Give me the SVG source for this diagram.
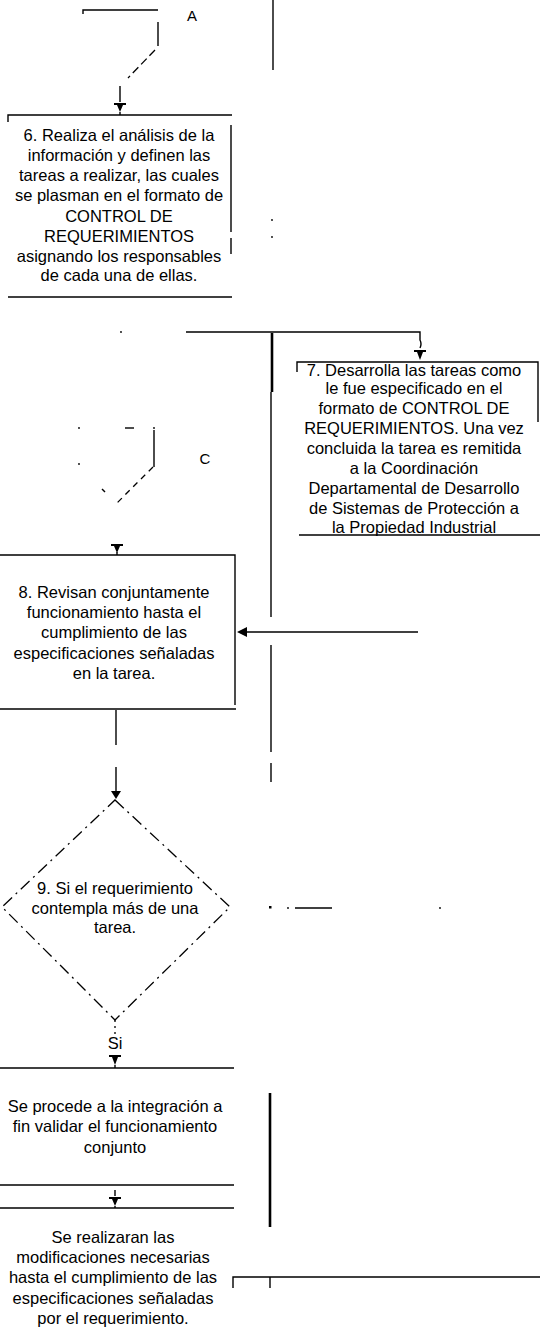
<svg xmlns="http://www.w3.org/2000/svg" width="540" height="1340" viewBox="0 0 540 1340">
  <style>
    .ln { stroke: #000; stroke-width: 1.4; fill: none; }
    .thick { stroke: #000; stroke-width: 2.6; fill: none; }
    .dash { stroke: #000; stroke-width: 1.3; fill: none; stroke-dasharray: 12 5 2 5; }
    .dot { fill: #000; }
    .t { font-family: "Liberation Sans", Arial, sans-serif; font-size: 16.5px; fill: #000; text-anchor: middle; }
    .lbl { font-family: "Liberation Sans", Arial, sans-serif; font-size: 15px; fill: #000; text-anchor: middle; }
  </style>
  <rect width="540" height="1340" fill="#fff"/>

  <!-- connectors -->
  <g id="connectors">
    <!-- top: off-page connector A down to step 6 -->
    <path class="ln" d="M83,14 V10 H158"/>
    <path class="ln" d="M158,22 V46"/>
    <path class="dash" d="M155,50 L128,78" style="stroke-dasharray:8 4"/>
    <path class="ln" d="M120,86 V102"/>
    <path class="dot" d="M114,103 H126 V105 H123 L120,112 L117,105 H114 Z"/>
    <path class="ln" d="M120,112 V115"/>
    <path class="ln" d="M273,0 V70"/>
    <circle class="dot" cx="272" cy="220" r="0.9"/>
    <circle class="dot" cx="272" cy="237" r="0.9"/>

    <!-- branch to step 7 -->
    <circle class="dot" cx="121" cy="332" r="0.9"/>
    <path class="ln" d="M186,332 H420 V340 Q422,344 420,348"/>
    <path class="dot" d="M414,350 H426 V352 H423 L420,360 L417,352 H414 Z"/>
    <path class="thick" d="M272,333 V392"/>
    <path class="ln" d="M271,392 V617"/>
    <path class="ln" d="M271,645 V752"/>
    <path class="ln" d="M271,763 V782"/>

    <!-- connector C down to step 8 -->
    <circle class="dot" cx="79" cy="428" r="0.9"/>
    <circle class="dot" cx="79" cy="464" r="0.9"/>
    <path class="ln" d="M125,428 H134"/>
    <circle class="dot" cx="154" cy="428" r="0.9"/>
    <path class="ln" d="M154,430 V467"/>
    <path class="dash" d="M153,467 L117,503" style="stroke-dasharray:6 5"/>
    <path class="ln" d="M102,489 L105,492"/>
    <path class="dot" d="M111,544 H123 V546 H120 L117,553 L114,546 H111 Z"/>
    <path class="ln" d="M117,552 V555"/>

    <!-- return from step 7 into step 8 -->
    <path class="ln" d="M418,632 H247"/>
    <path class="dot" d="M237,632 L247,627 L247,637 Z"/>

    <!-- step 8 down to decision 9 -->
    <path class="ln" d="M116,710 V745"/>
    <path class="ln" d="M116,767 V792"/>
    <path class="dot" d="M111,791 H121 L116,799 Z"/>

    <!-- decision right exit -->
    <rect class="dot" x="269" y="906" width="2.5" height="2.5"/>
    <circle class="dot" cx="288" cy="908" r="0.9"/>
    <path class="ln" d="M295,908 H332"/>
    <circle class="dot" cx="440" cy="908" r="0.9"/>

    <!-- "Si" exit -->
    <path class="dash" d="M115,1020 V1036" style="stroke-dasharray:2 4"/>
    <path class="dot" d="M109,1055 H121 V1057 H118 L115,1065 L112,1057 H109 Z"/>
    <path class="ln" d="M115,1065 V1068"/>
    <path class="thick" d="M270,1093 V1227"/>

    <!-- integration to modifications -->
    <path class="ln" d="M115,1190 V1196"/>
    <path class="dot" d="M109,1197 H121 V1199 H118 L115,1206 L112,1199 H109 Z"/>
    <path class="ln" d="M115,1206 V1208"/>

    <!-- bottom right connector -->
    <path class="ln" d="M233,1288 V1277 H540"/>
    <path class="ln" d="M270,1277 V1288"/>
  </g>

  <!-- off-page labels -->
  <g id="label-A"><text class="lbl" x="192" y="21">A</text></g>
  <g id="label-C"><text class="lbl" x="205" y="464">C</text></g>

  <!-- step 6 -->
  <g id="step6">
    <path class="ln" d="M8,122 V115 H232"/>
    <path class="ln" d="M231,125 V232 M231,238 V254"/>
    <path class="ln" d="M8,297 H232"/>
    <text class="t" x="119" y="141">6. Realiza el análisis de la</text>
    <text class="t" x="119" y="161">información y definen las</text>
    <text class="t" x="119" y="181">tareas a realizar, las cuales</text>
    <text class="t" x="119" y="201">se plasman en el formato de</text>
    <text class="t" x="119" y="222">CONTROL DE</text>
    <text class="t" x="119" y="242">REQUERIMIENTOS</text>
    <text class="t" x="119" y="262">asignando los responsables</text>
    <text class="t" x="119" y="281">de cada una de ellas.</text>
  </g>

  <!-- step 7 -->
  <g id="step7">
    <path class="ln" d="M297,372 V362 H538 V422"/>
    <path class="ln" d="M299,535 H540"/>
    <text class="t" x="414" y="376">7. Desarrolla las tareas como</text>
    <text class="t" x="414" y="394">le fue especificado en el</text>
    <text class="t" x="414" y="414">formato de CONTROL DE</text>
    <text class="t" x="414" y="434">REQUERIMIENTOS. Una vez</text>
    <text class="t" x="414" y="454">concluida la tarea es remitida</text>
    <text class="t" x="414" y="474">a la Coordinación</text>
    <text class="t" x="414" y="494">Departamental de Desarrollo</text>
    <text class="t" x="414" y="514">de Sistemas de Protección a</text>
    <text class="t" x="414" y="533">la Propiedad Industrial</text>
  </g>

  <!-- step 8 -->
  <g id="step8">
    <path class="ln" d="M0,555 H235 V705"/>
    <path class="ln" d="M0,709 H236"/>
    <text class="t" x="114" y="598">8. Revisan conjuntamente</text>
    <text class="t" x="114" y="618">funcionamiento hasta el</text>
    <text class="t" x="114" y="638">cumplimiento de las</text>
    <text class="t" x="114" y="659">especificaciones señaladas</text>
    <text class="t" x="114" y="679">en la tarea.</text>
  </g>

  <!-- decision 9 -->
  <g id="decision9">
    <path class="dash" d="M115,800 L230,907 L115,1020 L2,907 Z"/>
    <text class="t" x="115" y="894">9. Si el requerimiento</text>
    <text class="t" x="115" y="914">contempla más de una</text>
    <text class="t" x="115" y="933">tarea.</text>
  </g>
  <g id="label-si"><text class="t" x="115" y="1049">Si</text></g>

  <!-- integration -->
  <g id="integration">
    <path class="ln" d="M0,1068 H234"/>
    <path class="ln" d="M0,1185 H234"/>
    <text class="t" x="115" y="1112">Se procede a la integración a</text>
    <text class="t" x="115" y="1132">fin validar el funcionamiento</text>
    <text class="t" x="115" y="1153">conjunto</text>
  </g>

  <!-- modifications -->
  <g id="modifications">
    <path class="ln" d="M0,1208 H234"/>
    <text class="t" x="113" y="1243">Se realizaran las</text>
    <text class="t" x="113" y="1263">modificaciones necesarias</text>
    <text class="t" x="113" y="1283">hasta el cumplimiento de las</text>
    <text class="t" x="113" y="1304">especificaciones señaladas</text>
    <text class="t" x="113" y="1324">por el requerimiento.</text>
  </g>
</svg>
